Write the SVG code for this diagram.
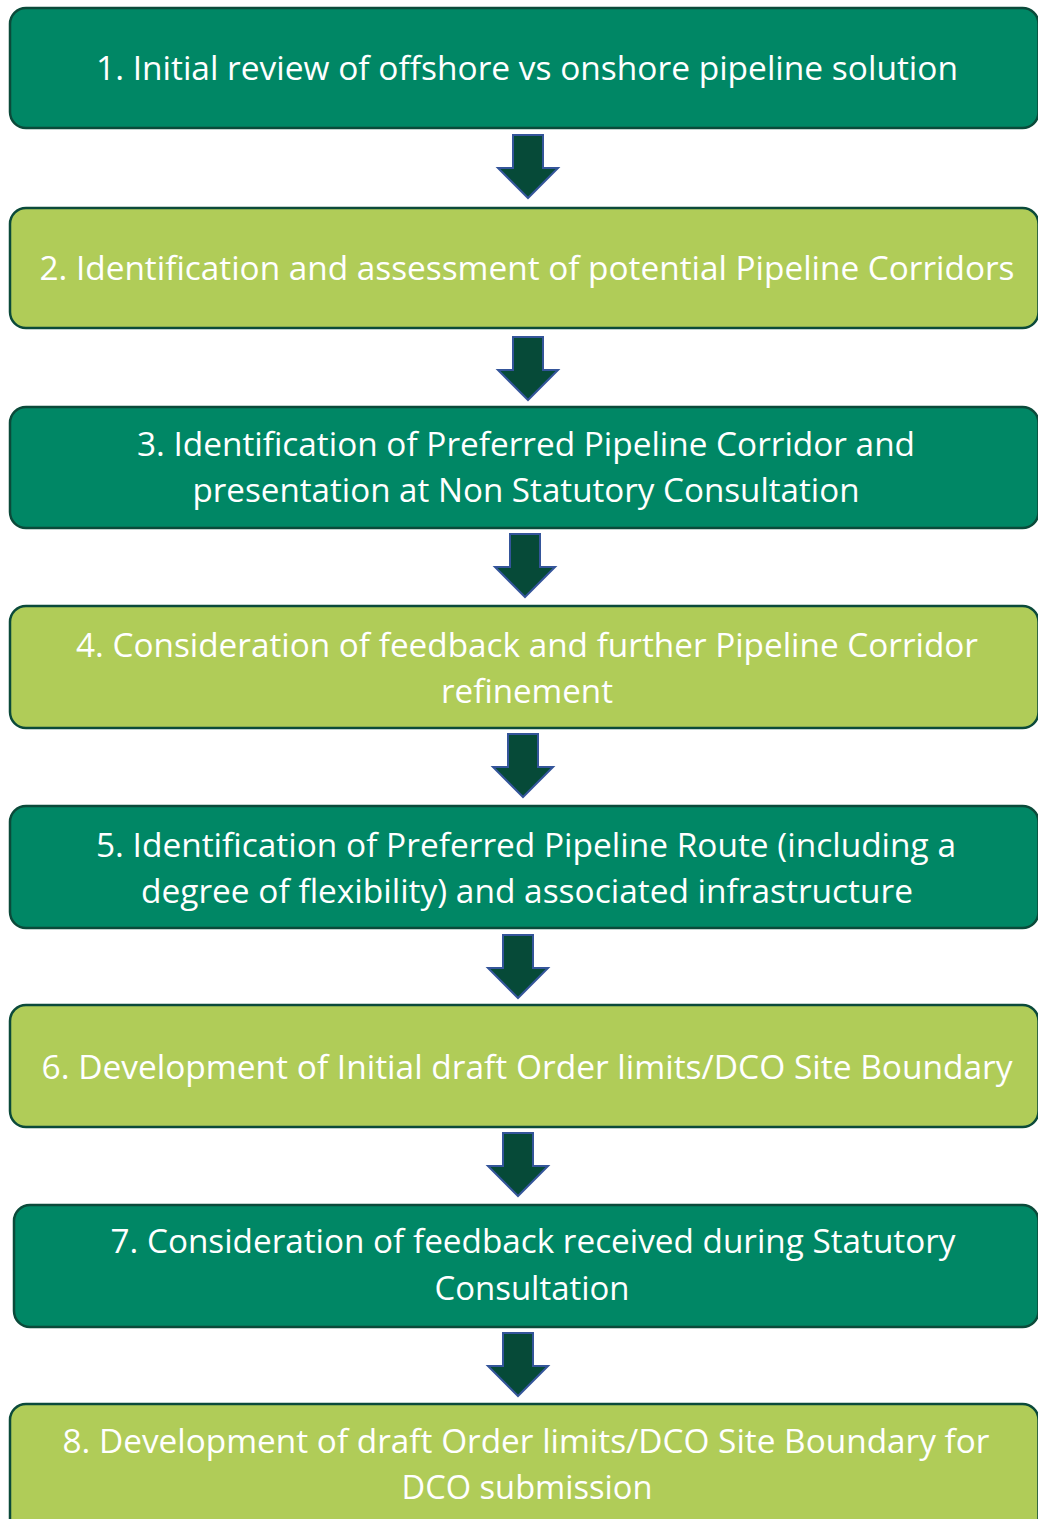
<svg xmlns="http://www.w3.org/2000/svg" width="1038" height="1519" viewBox="0 0 1038 1519">
<style>
.box{stroke:#0b4a3a;stroke-width:2.5}
.dark{fill:#008765}
.light{fill:#b0cc58}
.t{font-family:"Open Sans","Liberation Sans",sans-serif;font-size:33px;fill:#ffffff;text-anchor:middle}
.arr{fill:#064a38;stroke:#34559a;stroke-width:2;stroke-linejoin:miter}
</style>
<defs>
<path id="arrow" class="arr" d="M-15,0 H15 V33 H30 L0,63 L-30,33 H-15 Z"/>
</defs>
<rect width="1038" height="1519" fill="#ffffff"/>
<g id="connectors">
<use href="#arrow" x="528" y="135"/>
<use href="#arrow" x="528" y="337"/>
<use href="#arrow" x="525" y="534"/>
<use href="#arrow" x="523" y="734"/>
<use href="#arrow" x="518" y="935"/>
<use href="#arrow" x="518" y="1133"/>
<use href="#arrow" x="518" y="1333"/>
</g>
<g id="node1">
<rect class="box dark" x="10" y="8" width="1028.5" height="120" rx="16"/>
<text class="t" x="527" y="80" textLength="862" lengthAdjust="spacingAndGlyphs">1. Initial review of offshore vs onshore pipeline solution</text>
</g>
<g id="node2">
<rect class="box light" x="10" y="208" width="1028.5" height="120" rx="16"/>
<text class="t" x="527" y="280" textLength="975" lengthAdjust="spacingAndGlyphs">2. Identification and assessment of potential Pipeline Corridors</text>
</g>
<g id="node3">
<rect class="box dark" x="10" y="407" width="1028.5" height="121" rx="16"/>
<text class="t" x="526" y="456" textLength="778" lengthAdjust="spacingAndGlyphs">3. Identification of Preferred Pipeline Corridor and</text>
<text class="t" x="526" y="502" textLength="667" lengthAdjust="spacingAndGlyphs">presentation at Non Statutory Consultation</text>
</g>
<g id="node4">
<rect class="box light" x="10" y="606" width="1028.5" height="122" rx="16"/>
<text class="t" x="527" y="657" textLength="902" lengthAdjust="spacingAndGlyphs">4. Consideration of feedback and further Pipeline Corridor</text>
<text class="t" x="527" y="703" textLength="172" lengthAdjust="spacingAndGlyphs">refinement</text>
</g>
<g id="node5">
<rect class="box dark" x="10" y="806" width="1028.5" height="122" rx="16"/>
<text class="t" x="526" y="857" textLength="860" lengthAdjust="spacingAndGlyphs">5. Identification of Preferred Pipeline Route (including a</text>
<text class="t" x="527" y="903" textLength="772" lengthAdjust="spacingAndGlyphs">degree of flexibility) and associated infrastructure</text>
</g>
<g id="node6">
<rect class="box light" x="10" y="1005" width="1028.5" height="122" rx="16"/>
<text class="t" x="527" y="1079" textLength="971" lengthAdjust="spacingAndGlyphs">6. Development of Initial draft Order limits/DCO Site Boundary</text>
</g>
<g id="node7">
<rect class="box dark" x="14" y="1205" width="1024.5" height="122" rx="16"/>
<text class="t" x="533" y="1253" textLength="845" lengthAdjust="spacingAndGlyphs">7. Consideration of feedback received during Statutory</text>
<text class="t" x="532" y="1300" textLength="195" lengthAdjust="spacingAndGlyphs">Consultation</text>
</g>
<g id="node8">
<rect class="box light" x="10" y="1404" width="1028.5" height="140" rx="16"/>
<text class="t" x="526" y="1453" textLength="927" lengthAdjust="spacingAndGlyphs">8. Development of draft Order limits/DCO Site Boundary for</text>
<text class="t" x="527" y="1499" textLength="251" lengthAdjust="spacingAndGlyphs">DCO submission</text>
</g>
</svg>
